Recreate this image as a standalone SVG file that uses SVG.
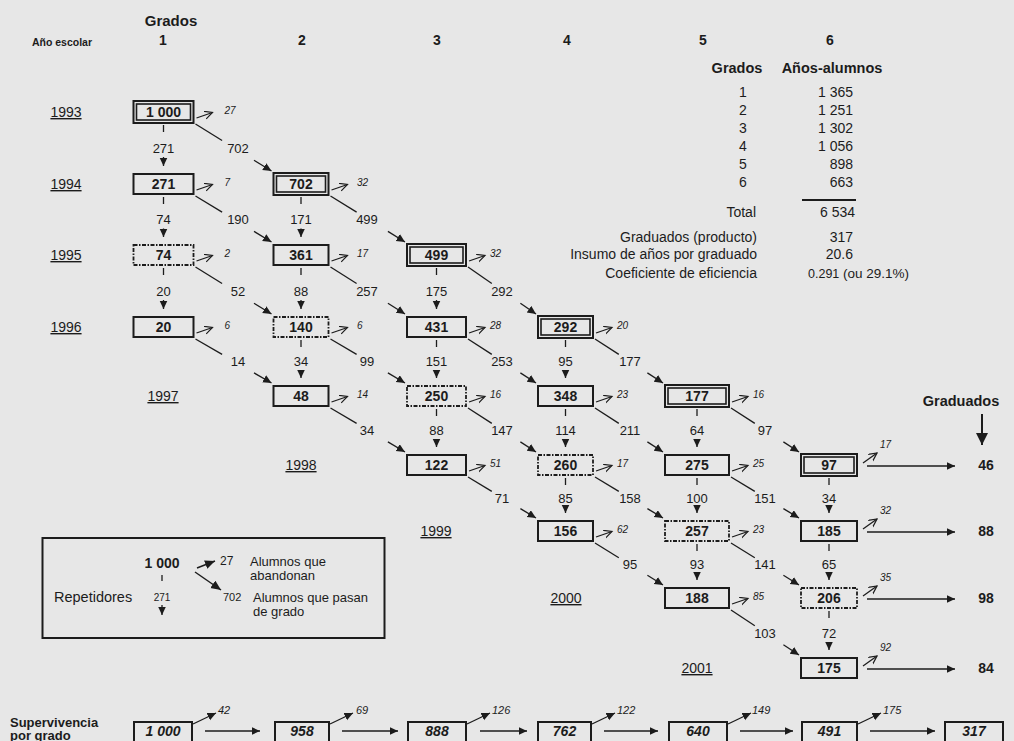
<svg xmlns="http://www.w3.org/2000/svg" width="1014" height="741" viewBox="0 0 1014 741">
<style>
text{font-family:"Liberation Sans",Arial,sans-serif;fill:#1c1c1c}
.n{font-weight:bold;font-size:14px;text-anchor:middle}
.h{font-weight:bold;font-size:14px;text-anchor:middle}
.l{font-size:13px;text-anchor:middle}
.d{font-style:italic;font-size:10px}
.y{font-size:14px;text-anchor:middle;text-decoration:underline}
.t{font-size:14px}
.b{fill:none;stroke:#1c1c1c;stroke-width:2}
.bi{fill:none;stroke:#1c1c1c;stroke-width:1.6}
.bd{fill:none;stroke:#1c1c1c;stroke-width:1.8;stroke-dasharray:4 1.5 1.5 1.5}
.c{fill:none;stroke:#1c1c1c;stroke-width:1.3}
.v{marker-end:url(#af)}
.o{marker-end:url(#ao)}
.s{font-weight:bold;font-style:italic;font-size:14px;text-anchor:middle}
</style>
<defs>
<marker id="af" markerUnits="userSpaceOnUse" markerWidth="10" markerHeight="9" refX="8.5" refY="4" orient="auto"><path d="M0,0 L8.5,4 L0,8 z" fill="#1c1c1c"/></marker>
<marker id="ao" markerUnits="userSpaceOnUse" markerWidth="11" markerHeight="11" refX="8" refY="4" orient="auto"><path d="M0,0 L8,4 L0,8" fill="none" stroke="#1c1c1c" stroke-width="1.2"/></marker>
<marker id="al" markerUnits="userSpaceOnUse" markerWidth="12" markerHeight="10" refX="10" refY="4.5" orient="auto"><path d="M0,0 L10,4.5 L0,9 z" fill="#1c1c1c"/></marker>
<marker id="ab" markerUnits="userSpaceOnUse" markerWidth="14" markerHeight="14" refX="12" refY="6" orient="auto"><path d="M0,0 L12,6 L0,12 z" fill="#1c1c1c"/></marker>
</defs>
<rect x="0" y="0" width="1014" height="741" fill="#e7e7e7"/>

<g id="header">
<text x="171" y="26" style="font-weight:bold;font-size:15px;text-anchor:middle">Grados</text>
<text x="62" y="46" style="font-weight:bold;font-size:10.5px;text-anchor:middle">Año escolar</text>
<text x="163" y="45" class="h">1</text>
<text x="302" y="45" class="h">2</text>
<text x="437" y="45" class="h">3</text>
<text x="567" y="45" class="h">4</text>
<text x="703" y="45" class="h">5</text>
<text x="830" y="45" class="h">6</text>
</g>

<g id="years">
<text x="66" y="117" class="y">1993</text>
<text x="66" y="189" class="y">1994</text>
<text x="66" y="260" class="y">1995</text>
<text x="66" y="332" class="y">1996</text>
<text x="163" y="401" class="y">1997</text>
<text x="301" y="470" class="y">1998</text>
<text x="436" y="536" class="y">1999</text>
<text x="566" y="603" class="y">2000</text>
<text x="697" y="673" class="y">2001</text>
</g>

<g id="table">
<text x="737" y="73" style="font-weight:bold;font-size:14.5px;text-anchor:middle">Grados</text>
<text x="832" y="73" style="font-weight:bold;font-size:14.5px;text-anchor:middle">Años-alumnos</text>
<text x="743" y="97" class="t" text-anchor="middle">1</text>
<text x="743" y="115" class="t" text-anchor="middle">2</text>
<text x="743" y="133" class="t" text-anchor="middle">3</text>
<text x="743" y="151" class="t" text-anchor="middle">4</text>
<text x="743" y="169" class="t" text-anchor="middle">5</text>
<text x="743" y="187" class="t" text-anchor="middle">6</text>
<text x="853" y="97" class="t" text-anchor="end">1 365</text>
<text x="853" y="115" class="t" text-anchor="end">1 251</text>
<text x="853" y="133" class="t" text-anchor="end">1 302</text>
<text x="853" y="151" class="t" text-anchor="end">1 056</text>
<text x="853" y="169" class="t" text-anchor="end">898</text>
<text x="853" y="187" class="t" text-anchor="end">663</text>
<line x1="802" y1="200" x2="856" y2="200" stroke="#1c1c1c" stroke-width="2"/>
<text x="756" y="217" class="t" text-anchor="end">Total</text>
<text x="855" y="217" class="t" text-anchor="end">6 534</text>
<text x="757" y="242" class="t" text-anchor="end">Graduados (producto)</text>
<text x="853" y="242" class="t" text-anchor="end">317</text>
<text x="757" y="259" class="t" text-anchor="end">Insumo de años por graduado</text>
<text x="853" y="259" class="t" text-anchor="end">20.6</text>
<text x="757" y="278" class="t" text-anchor="end">Coeficiente de eficiencia</text>
<text x="808" y="278" style="font-size:13.5px"><tspan style="font-size:12.5px">0.291</tspan> (ou 29.1%)</text>
</g>

<g id="n1_1993"><rect x="133.5" y="101" width="60" height="22" class="b"/><rect x="136.5" y="104" width="54" height="16" class="bi"/><text x="163.5" y="117" class="n">1 000</text></g>
<g id="n1_1994"><rect x="133.5" y="174" width="60" height="20" class="b"/><text x="163.5" y="189" class="n">271</text></g>
<g id="n1_1995"><rect x="133.5" y="245" width="60" height="20" class="bd"/><text x="163.5" y="260" class="n">74</text></g>
<g id="n1_1996"><rect x="133.5" y="317" width="60" height="20" class="b"/><text x="163.5" y="332" class="n">20</text></g>

<g id="n2_1994"><rect x="273.5" y="173" width="55" height="22" class="b"/><rect x="276.5" y="176" width="49" height="16" class="bi"/><text x="301" y="189" class="n">702</text></g>
<g id="n2_1995"><rect x="273.5" y="245" width="55" height="20" class="b"/><text x="301" y="260" class="n">361</text></g>
<g id="n2_1996"><rect x="273.5" y="317" width="55" height="20" class="bd"/><text x="301" y="332" class="n">140</text></g>
<g id="n2_1997"><rect x="273.5" y="386" width="55" height="20" class="b"/><text x="301" y="401" class="n">48</text></g>

<g id="n3_1995"><rect x="407" y="244" width="59" height="22" class="b"/><rect x="410" y="247" width="53" height="16" class="bi"/><text x="436.5" y="260" class="n">499</text></g>
<g id="n3_1996"><rect x="407" y="317" width="59" height="20" class="b"/><text x="436.5" y="332" class="n">431</text></g>
<g id="n3_1997"><rect x="407" y="386" width="59" height="20" class="bd"/><text x="436.5" y="401" class="n">250</text></g>
<g id="n3_1998"><rect x="407" y="455" width="59" height="20" class="b"/><text x="436.5" y="470" class="n">122</text></g>

<g id="n4_1996"><rect x="538" y="316" width="55" height="22" class="b"/><rect x="541" y="319" width="49" height="16" class="bi"/><text x="565.5" y="332" class="n">292</text></g>
<g id="n4_1997"><rect x="538" y="386" width="55" height="20" class="b"/><text x="565.5" y="401" class="n">348</text></g>
<g id="n4_1998"><rect x="538" y="455" width="55" height="20" class="bd"/><text x="565.5" y="470" class="n">260</text></g>
<g id="n4_1999"><rect x="538" y="521" width="55" height="20" class="b"/><text x="565.5" y="536" class="n">156</text></g>

<g id="n5_1997"><rect x="665" y="385" width="64" height="22" class="b"/><rect x="668" y="388" width="58" height="16" class="bi"/><text x="697" y="401" class="n">177</text></g>
<g id="n5_1998"><rect x="665" y="455" width="64" height="20" class="b"/><text x="697" y="470" class="n">275</text></g>
<g id="n5_1999"><rect x="665" y="521" width="64" height="20" class="bd"/><text x="697" y="536" class="n">257</text></g>
<g id="n5_2000"><rect x="665" y="588" width="64" height="20" class="b"/><text x="697" y="603" class="n">188</text></g>

<g id="n6_1998"><rect x="801" y="454" width="56" height="22" class="b"/><rect x="804" y="457" width="50" height="16" class="bi"/><text x="829" y="470" class="n">97</text></g>
<g id="n6_1999"><rect x="801" y="521" width="56" height="20" class="b"/><text x="829" y="536" class="n">185</text></g>
<g id="n6_2000"><rect x="801" y="588" width="56" height="20" class="bd"/><text x="829" y="603" class="n">206</text></g>
<g id="n6_2001"><rect x="801" y="658" width="56" height="20" class="b"/><text x="829" y="673" class="n">175</text></g>

<g id="graduados">
<text x="961" y="406" style="font-weight:bold;font-size:14.5px;text-anchor:middle">Graduados</text>
<line x1="982" y1="414" x2="982" y2="445" stroke="#1c1c1c" stroke-width="2" marker-end="url(#ab)"/>
<text x="986" y="470" class="n">46</text>
<text x="986" y="536" class="n">88</text>
<text x="986" y="603" class="n">98</text>
<text x="986" y="673" class="n">84</text>
</g>

<g id="connectors">
<g class="c">
<line x1="163.5" y1="125" x2="163.5" y2="132"/><line x1="163.5" y1="157" x2="163.5" y2="166" class="v"/>
<line x1="163.5" y1="197" x2="163.5" y2="204"/><line x1="163.5" y1="228.5" x2="163.5" y2="237" class="v"/>
<line x1="163.5" y1="268" x2="163.5" y2="275"/><line x1="163.5" y1="300" x2="163.5" y2="309" class="v"/>
<line x1="301" y1="197" x2="301" y2="204"/><line x1="301" y1="228.5" x2="301" y2="237" class="v"/>
<line x1="301" y1="268" x2="301" y2="275"/><line x1="301" y1="300" x2="301" y2="309" class="v"/>
<line x1="301" y1="340" x2="301" y2="347"/><line x1="301" y1="370.5" x2="301" y2="378" class="v"/>
<line x1="436.5" y1="268" x2="436.5" y2="275"/><line x1="436.5" y1="300" x2="436.5" y2="309" class="v"/>
<line x1="436.5" y1="340" x2="436.5" y2="347"/><line x1="436.5" y1="370.5" x2="436.5" y2="378" class="v"/>
<line x1="436.5" y1="409" x2="436.5" y2="416"/><line x1="436.5" y1="439.5" x2="436.5" y2="447" class="v"/>
<line x1="565.5" y1="340" x2="565.5" y2="347"/><line x1="565.5" y1="370.5" x2="565.5" y2="378" class="v"/>
<line x1="565.5" y1="409" x2="565.5" y2="416"/><line x1="565.5" y1="439.5" x2="565.5" y2="447" class="v"/>
<line x1="565.5" y1="478" x2="565.5" y2="485"/><line x1="565.5" y1="506" x2="565.5" y2="513" class="v"/>
<line x1="697" y1="409" x2="697" y2="416"/><line x1="697" y1="439.5" x2="697" y2="447" class="v"/>
<line x1="697" y1="478" x2="697" y2="485"/><line x1="697" y1="506" x2="697" y2="513" class="v"/>
<line x1="697" y1="544" x2="697" y2="551"/><line x1="697" y1="573.5" x2="697" y2="580" class="v"/>
<line x1="829" y1="478" x2="829" y2="485"/><line x1="829" y1="506" x2="829" y2="513" class="v"/>
<line x1="829" y1="544" x2="829" y2="551"/><line x1="829" y1="573.5" x2="829" y2="580" class="v"/>
<line x1="829" y1="611" x2="829" y2="618"/><line x1="829" y1="642" x2="829" y2="650" class="v"/>
</g>
<g>
<text x="163.5" y="152.5" class="l">271</text><text x="163.5" y="224" class="l">74</text><text x="163.5" y="295.5" class="l">20</text>
<text x="301" y="224" class="l">171</text><text x="301" y="295.5" class="l">88</text><text x="301" y="366" class="l">34</text>
<text x="436.5" y="295.5" class="l">175</text><text x="436.5" y="366" class="l">151</text><text x="436.5" y="435" class="l">88</text>
<text x="565.5" y="366" class="l">95</text><text x="565.5" y="435" class="l">114</text><text x="565.5" y="502.5" class="l">85</text>
<text x="697" y="435" class="l">64</text><text x="697" y="502.5" class="l">100</text><text x="697" y="569" class="l">93</text>
<text x="829" y="502.5" class="l">34</text><text x="829" y="569" class="l">65</text><text x="829" y="637.5" class="l">72</text>
</g>
<g class="c">
<line x1="195.5" y1="124" x2="222.1" y2="140.5"/><line x1="254" y1="160.2" x2="271.5" y2="171" class="v"/>
<line x1="195.5" y1="196" x2="222.1" y2="212.1"/><line x1="254" y1="231.4" x2="271.5" y2="242" class="v"/>
<line x1="195.5" y1="267" x2="222.1" y2="283.5"/><line x1="254" y1="303.2" x2="271.5" y2="314" class="v"/>
<line x1="195.5" y1="339" x2="222.1" y2="354.4"/><line x1="254" y1="372.9" x2="271.5" y2="383" class="v"/>
<line x1="330.5" y1="196" x2="356.6" y2="212.1"/><line x1="387.9" y1="231.4" x2="405" y2="242" class="v"/>
<line x1="330.5" y1="267" x2="356.6" y2="283.5"/><line x1="387.9" y1="303.2" x2="405" y2="314" class="v"/>
<line x1="330.5" y1="339" x2="356.6" y2="354.4"/><line x1="387.9" y1="372.9" x2="405" y2="383" class="v"/>
<line x1="330.5" y1="408" x2="356.6" y2="423.4"/><line x1="387.9" y1="441.9" x2="405" y2="452" class="v"/>
<line x1="468" y1="267" x2="491.8" y2="283.5"/><line x1="520.4" y1="303.2" x2="536" y2="314" class="v"/>
<line x1="468" y1="339" x2="491.8" y2="354.4"/><line x1="520.4" y1="372.9" x2="536" y2="383" class="v"/>
<line x1="468" y1="408" x2="491.8" y2="423.4"/><line x1="520.4" y1="441.9" x2="536" y2="452" class="v"/>
<line x1="468" y1="477" x2="491.8" y2="491.4"/><line x1="520.4" y1="508.6" x2="536" y2="518" class="v"/>
<line x1="595" y1="339" x2="618.8" y2="354.4"/><line x1="647.4" y1="372.9" x2="663" y2="383" class="v"/>
<line x1="595" y1="408" x2="618.8" y2="423.4"/><line x1="647.4" y1="441.9" x2="663" y2="452" class="v"/>
<line x1="595" y1="477" x2="618.8" y2="491.4"/><line x1="647.4" y1="508.6" x2="663" y2="518" class="v"/>
<line x1="595" y1="543" x2="618.8" y2="557.7"/><line x1="647.4" y1="575.3" x2="663" y2="585" class="v"/>
<line x1="731" y1="408" x2="754.8" y2="423.4"/><line x1="783.4" y1="441.9" x2="799" y2="452" class="v"/>
<line x1="731" y1="477" x2="754.8" y2="491.4"/><line x1="783.4" y1="508.6" x2="799" y2="518" class="v"/>
<line x1="731" y1="543" x2="754.8" y2="557.7"/><line x1="783.4" y1="575.3" x2="799" y2="585" class="v"/>
<line x1="731" y1="610" x2="754.8" y2="625.8"/><line x1="783.4" y1="644.7" x2="799" y2="655" class="v"/>
</g>
<g>
<text x="238" y="152.5" class="l">702</text><text x="238" y="224" class="l">190</text><text x="238" y="295.5" class="l">52</text><text x="238" y="366" class="l">14</text>
<text x="367" y="224" class="l">499</text><text x="367" y="295.5" class="l">257</text><text x="367" y="366" class="l">99</text><text x="367" y="435" class="l">34</text>
<text x="502" y="295.5" class="l">292</text><text x="502" y="366" class="l">253</text><text x="502" y="435" class="l">147</text><text x="502" y="502.5" class="l">71</text>
<text x="630" y="366" class="l">177</text><text x="630" y="435" class="l">211</text><text x="630" y="502.5" class="l">158</text><text x="630" y="569" class="l">95</text>
<text x="765" y="435" class="l">97</text><text x="765" y="502.5" class="l">151</text><text x="765" y="569" class="l">141</text><text x="765" y="637.5" class="l">103</text>
</g>
<g class="c">
<line x1="196.5" y1="118" x2="212.5" y2="112.5" class="o"/>
<line x1="196.5" y1="190" x2="212.5" y2="184.5" class="o"/>
<line x1="196.5" y1="261" x2="212.5" y2="255.5" class="o"/>
<line x1="196.5" y1="333" x2="212.5" y2="327.5" class="o"/>
<line x1="331.5" y1="190" x2="347.5" y2="184.5" class="o"/>
<line x1="331.5" y1="261" x2="347.5" y2="255.5" class="o"/>
<line x1="331.5" y1="333" x2="347.5" y2="327.5" class="o"/>
<line x1="331.5" y1="402" x2="347.5" y2="396.5" class="o"/>
<line x1="469" y1="261" x2="485" y2="255.5" class="o"/>
<line x1="469" y1="333" x2="485" y2="327.5" class="o"/>
<line x1="469" y1="402" x2="485" y2="396.5" class="o"/>
<line x1="469" y1="471" x2="485" y2="465.5" class="o"/>
<line x1="596" y1="333" x2="612" y2="327.5" class="o"/>
<line x1="596" y1="402" x2="612" y2="396.5" class="o"/>
<line x1="596" y1="471" x2="612" y2="465.5" class="o"/>
<line x1="596" y1="537" x2="612" y2="531.5" class="o"/>
<line x1="732" y1="402" x2="748" y2="396.5" class="o"/>
<line x1="732" y1="471" x2="748" y2="465.5" class="o"/>
<line x1="732" y1="537" x2="748" y2="531.5" class="o"/>
<line x1="732" y1="604" x2="748" y2="598.5" class="o"/>
<line x1="863" y1="463" x2="877" y2="453" class="o"/>
<line x1="863" y1="529" x2="877" y2="519" class="o"/>
<line x1="863" y1="596" x2="877" y2="586" class="o"/>
<line x1="863" y1="666" x2="877" y2="656" class="o"/>
<line x1="867" y1="466" x2="955" y2="466" class="v"/>
<line x1="867" y1="532" x2="955" y2="532" class="v"/>
<line x1="867" y1="599" x2="955" y2="599" class="v"/>
<line x1="867" y1="669" x2="955" y2="669" class="v"/>
</g>
<g>
<text x="224.5" y="114" class="d">27</text><text x="224.5" y="186" class="d">7</text><text x="224.5" y="257" class="d">2</text><text x="224.5" y="329" class="d">6</text>
<text x="357" y="186" class="d">32</text><text x="357" y="257" class="d">17</text><text x="357" y="329" class="d">6</text><text x="357" y="398" class="d">14</text>
<text x="490" y="257" class="d">32</text><text x="490" y="329" class="d">28</text><text x="490" y="398" class="d">16</text><text x="490" y="467" class="d">51</text>
<text x="617" y="329" class="d">20</text><text x="617" y="398" class="d">23</text><text x="617" y="467" class="d">17</text><text x="617" y="533" class="d">62</text>
<text x="753" y="398" class="d">16</text><text x="753" y="467" class="d">25</text><text x="753" y="533" class="d">23</text><text x="753" y="600" class="d">85</text>
<text x="880" y="448" class="d">17</text><text x="880" y="514" class="d">32</text><text x="880" y="581" class="d">35</text><text x="880" y="651" class="d">92</text>
</g>
</g>

<g id="legend">
<rect x="42.5" y="538" width="342" height="100" fill="none" stroke="#1c1c1c" stroke-width="2"/>
<text x="162" y="568" class="n">1 000</text>
<line x1="162" y1="575" x2="162" y2="581" class="c"/>
<text x="162" y="601" style="font-size:10px;text-anchor:middle">271</text>
<line x1="162" y1="605" x2="162" y2="615" class="c v"/>
<text x="54" y="602" style="font-size:14.5px">Repetidores</text>
<line x1="197" y1="568" x2="215" y2="561" stroke="#1c1c1c" stroke-width="1.5" marker-end="url(#al)"/>
<text x="220" y="565" style="font-size:12px">27</text>
<text x="250" y="566" style="font-size:13px">Alumnos que</text>
<text x="250" y="580" style="font-size:13px">abandonan</text>
<line x1="195" y1="572" x2="221" y2="590" stroke="#1c1c1c" stroke-width="1.5" marker-end="url(#al)"/>
<text x="223" y="601" style="font-size:11px">702</text>
<text x="253" y="602" style="font-size:13px">Alumnos que pasan</text>
<text x="253" y="616" style="font-size:13px">de grado</text>
</g>

<g id="survival">
<text x="10" y="727" style="font-weight:bold;font-size:13px">Supervivencia</text>
<text x="10" y="740" style="font-weight:bold;font-size:13px">por grado</text>
<g id="s1"><rect x="134" y="722" width="58" height="22" class="b"/><text x="163" y="736" class="s">1 000</text></g>
<g id="s2"><rect x="275" y="722" width="54" height="22" class="b"/><text x="302" y="736" class="s">958</text></g>
<g id="s3"><rect x="408" y="722" width="58" height="22" class="b"/><text x="437" y="736" class="s">888</text></g>
<g id="s4"><rect x="538" y="722" width="53" height="22" class="b"/><text x="564.5" y="736" class="s">762</text></g>
<g id="s5"><rect x="669" y="722" width="58" height="22" class="b"/><text x="698" y="736" class="s">640</text></g>
<g id="s6"><rect x="802" y="722" width="55" height="22" class="b"/><text x="829.5" y="736" class="s">491</text></g>
<g id="s7"><rect x="945" y="722" width="58" height="22" class="b"/><text x="974" y="736" class="s">317</text></g>
<g class="c">
<line x1="193" y1="724" x2="216" y2="713" class="v"/>
<line x1="330" y1="724" x2="353" y2="713" class="v"/>
<line x1="467" y1="724" x2="490" y2="713" class="v"/>
<line x1="592" y1="724" x2="615" y2="713" class="v"/>
<line x1="728" y1="724" x2="751" y2="713" class="v"/>
<line x1="858" y1="724" x2="881" y2="713" class="v"/>
<line x1="205" y1="731" x2="260" y2="731" class="v"/>
<line x1="342" y1="731" x2="398" y2="731" class="v"/>
<line x1="480" y1="731" x2="527" y2="731" class="v"/>
<line x1="604" y1="731" x2="658" y2="731" class="v"/>
<line x1="740" y1="731" x2="793" y2="731" class="v"/>
<line x1="870" y1="731" x2="935" y2="731" class="v"/>
</g>
<g style="font-style:italic;font-size:11px">
<text x="218" y="714">42</text><text x="356" y="714">69</text><text x="492" y="714">126</text><text x="617" y="714">122</text><text x="752" y="714">149</text><text x="883" y="714">175</text>
</g>
</g>
</svg>
